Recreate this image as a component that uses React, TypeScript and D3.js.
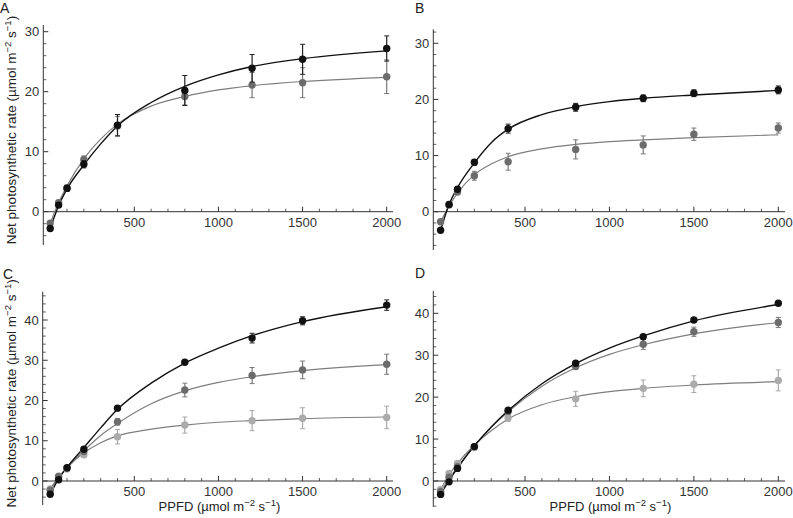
import React from "react";
import * as d3 from "d3";

const ppfd = [0, 50, 100, 200, 400, 800, 1200, 1500, 2000];
const curveX = [0, 50, 100, 200, 300, 400, 600, 800, 1000, 1200, 1500, 2000];
const xMajorTicks = [500, 1000, 1500, 2000];

// Panel A
const aBlack = [-2.8, 1.1, 3.9, 7.9, 14.4, 20.2, 23.9, 25.4, 27.2];
const aBlackErr = [0.3, 0.4, 0.5, 0.6, 1.8, 2.5, 2.3, 2.5, 2.1];
const aGray = [-1.9, 1.5, 3.9, 8.7, 14.3, 19.2, 21.1, 21.5, 22.5];
const aGrayErr = [0.3, 0.4, 0.5, 0.6, 1.6, 1.4, 2.1, 2.5, 2.8];
const aBlackCurve = [-2.8, 1.0, 3.8, 7.8, 11.3, 14.3, 18.2, 20.9, 22.8, 24.2, 25.5, 26.8];
const aGrayCurve = [-1.9, 1.5, 4.3, 8.8, 12.1, 14.6, 17.6, 19.2, 20.3, 21.0, 21.7, 22.4];

// Panel B
const bBlack = [-3.3, 1.3, 4.0, 8.8, 14.8, 18.6, 20.2, 21.1, 21.7];
const bBlackErr = [0.2, 0.3, 0.4, 0.5, 0.8, 0.7, 0.6, 0.6, 0.7];
const bGray = [-1.8, 1.2, 3.5, 6.4, 8.9, 11.1, 11.9, 13.8, 14.9];
const bGrayErr = [0.3, 0.3, 0.4, 0.8, 1.5, 1.7, 1.6, 1.1, 0.9];
const bBlackCurve = [-3.3, 1.3, 4.3, 8.7, 12.3, 14.7, 17.3, 18.7, 19.6, 20.2, 20.8, 21.6];
const bGrayCurve = [-1.8, 1.0, 3.3, 6.6, 8.5, 9.8, 11.2, 12.0, 12.5, 12.8, 13.2, 13.7];

// Panel C
const cBlack = [-3.3, 0.3, 3.3, 7.9, 18.1, 29.5, 35.5, 39.8, 43.7];
const cBlackErr = [0.2, 0.3, 0.3, 0.4, 0.4, 0.5, 1.2, 1.0, 1.3];
const cMid = [-2.3, 1.1, 3.2, 7.3, 14.7, 22.6, 26.2, 27.6, 29.0];
const cMidErr = [0.3, 0.3, 0.3, 0.5, 0.8, 1.7, 2.0, 2.2, 2.5];
const cLight = [-2.0, 1.2, 3.0, 6.5, 11.0, 13.9, 15.0, 15.6, 15.8];
const cLightErr = [0.3, 0.3, 0.3, 0.6, 1.8, 2.0, 2.5, 2.6, 2.8];
const cBlackCurve = [-3.3, 0.5, 3.4, 8.3, 13.2, 17.8, 24.3, 29.3, 33.0, 36.1, 39.6, 43.3];
const cMidCurve = [-2.3, 0.8, 3.3, 7.5, 11.3, 14.3, 19.2, 22.4, 24.5, 25.9, 27.4, 28.9];
const cLightCurve = [-2.0, 1.0, 3.3, 7.0, 9.5, 11.2, 12.9, 13.9, 14.6, 15.0, 15.5, 15.9];

// Panel D
const dBlack = [-3.2, -0.2, 3.0, 8.2, 16.9, 28.1, 34.4, 38.4, 42.4];
const dBlackErr = [0.2, 0.3, 0.3, 0.3, 0.4, 0.4, 0.4, 0.4, 0.4];
const dMid = [-2.5, 0.9, 3.4, 8.2, 16.6, 27.3, 32.6, 35.6, 37.8];
const dMidErr = [0.3, 0.3, 0.3, 0.4, 0.6, 0.6, 1.2, 1.1, 1.2];
const dLight = [-2.0, 1.8, 4.2, 8.0, 15.1, 19.6, 22.1, 23.1, 24.0];
const dLightErr = [0.3, 0.4, 0.4, 0.5, 0.9, 1.8, 2.0, 2.0, 2.5];
const dBlackCurve = [-3.2, 0.1, 3.1, 8.4, 12.9, 16.8, 23.2, 28.0, 31.7, 34.6, 38.2, 42.1];
const dMidCurve = [-2.5, 0.5, 3.3, 8.3, 12.8, 16.5, 22.6, 27.0, 30.2, 32.5, 35.1, 37.8];
const dLightCurve = [-2.0, 1.5, 4.2, 8.6, 12.0, 14.8, 18.2, 20.1, 21.3, 22.1, 22.9, 23.7];

const STY = {
  black: { fill: "#111", line: "#111", bar: "#222", lw: 1.4 },
  mid: { fill: "#6c6c6c", line: "#7e7e7e", bar: "#7a7a7a", lw: 1.2 },
  light: { fill: "#ababab", line: "#7e7e7e", bar: "#a8a8a8", lw: 1.2 },
};

type Series = { vals: number[]; err: number[]; curve: number[]; style: keyof typeof STY };
type Panel = {
  letter: string;
  lx: number; ly: number;
  axisX: number; x0: number; x2000: number; xEnd: number;
  yTopPx: number; yBotPx: number; yTickTop: number; y0px: number; yTopTickPx: number;
  yMajor: number[];
  series: Series[];
  yLabel: boolean; xLabel: boolean;
};

const panels: Panel[] = [
  {
    letter: "A", lx: 0, ly: 12.5,
    axisX: 43.3, x0: 50.2, x2000: 386.7, xEnd: 393,
    yTopPx: 25, yBotPx: 245, yTickTop: 30, y0px: 211.7, yTopTickPx: 31.7,
    yMajor: [0, 10, 20, 30],
    series: [
      { vals: aGray, err: aGrayErr, curve: aGrayCurve, style: "mid" },
      { vals: aBlack, err: aBlackErr, curve: aBlackCurve, style: "black" },
    ],
    yLabel: true, xLabel: false,
  },
  {
    letter: "B", lx: 415, ly: 12.5,
    axisX: 433.3, x0: 440.6, x2000: 778.3, xEnd: 785,
    yTopPx: 29.3, yBotPx: 250, yTickTop: 30, y0px: 211.7, yTopTickPx: 43.3,
    yMajor: [0, 10, 20, 30],
    series: [
      { vals: bGray, err: bGrayErr, curve: bGrayCurve, style: "mid" },
      { vals: bBlack, err: bBlackErr, curve: bBlackCurve, style: "black" },
    ],
    yLabel: false, xLabel: false,
  },
  {
    letter: "C", lx: 3, ly: 279,
    axisX: 42.7, x0: 50.2, x2000: 386.7, xEnd: 393,
    yTopPx: 291.7, yBotPx: 505, yTickTop: 40, y0px: 481, yTopTickPx: 320,
    yMajor: [0, 10, 20, 30, 40],
    series: [
      { vals: cLight, err: cLightErr, curve: cLightCurve, style: "light" },
      { vals: cMid, err: cMidErr, curve: cMidCurve, style: "mid" },
      { vals: cBlack, err: cBlackErr, curve: cBlackCurve, style: "black" },
    ],
    yLabel: true, xLabel: true,
  },
  {
    letter: "D", lx: 415, ly: 278,
    axisX: 433.3, x0: 440.6, x2000: 778.3, xEnd: 785,
    yTopPx: 291, yBotPx: 506.7, yTickTop: 40, y0px: 481, yTopTickPx: 313.3,
    yMajor: [0, 10, 20, 30, 40],
    series: [
      { vals: dLight, err: dLightErr, curve: dLightCurve, style: "light" },
      { vals: dMid, err: dMidErr, curve: dMidCurve, style: "mid" },
      { vals: dBlack, err: dBlackErr, curve: dBlackCurve, style: "black" },
    ],
    yLabel: false, xLabel: true,
  },
];

const FONT = "'Liberation Sans', Arial, Helvetica, sans-serif";
const AX = "#333";

function Unit() {
  return (
    <>
      {"(\u00b5mol m"}
      <tspan dy={-5} fontSize={9.5}>{"\u22122"}</tspan>
      <tspan dy={5}>{" s"}</tspan>
      <tspan dy={-5} fontSize={9.5}>{"\u22121"}</tspan>
      <tspan dy={5}>{")"}</tspan>
    </>
  );
}

function PanelView({ p }: { p: Panel }) {
  const x = d3.scaleLinear().domain([0, 2000]).range([p.x0, p.x2000]);
  const y = d3.scaleLinear().domain([0, p.yTickTop]).range([p.y0px, p.yTopTickPx]);
  const yMin = y.invert(p.yBotPx);
  const yMax = y.invert(p.yTopPx);
  const minorY = d3.range(Math.ceil(yMin / 2) * 2, yMax + 1e-6, 2).filter((v) => Math.abs(v % 10) > 1e-6);
  const minorX = d3.range(100, 2001, 100).filter((v) => v % 500 !== 0);
  const line = d3
    .line<number>()
    .x((_, i) => x(curveX[i]))
    .y((d) => y(d))
    .curve(d3.curveMonotoneX);
  const yZero = y(0);
  return (
    <g>
      <text x={p.lx} y={p.ly} fontSize={14} fill="#222" fontFamily={FONT}>{p.letter}</text>
      {/* axes */}
      <line x1={p.axisX} x2={p.axisX} y1={p.yTopPx} y2={p.yBotPx} stroke={AX} strokeWidth={1} />
      <line x1={p.axisX} x2={p.xEnd} y1={yZero} y2={yZero} stroke={AX} strokeWidth={1} />
      {p.yMajor.map((v) => (
        <g key={"ym" + v}>
          <line x1={p.axisX} x2={p.axisX + 5} y1={y(v)} y2={y(v)} stroke={AX} />
          <text x={p.axisX - 4} y={y(v) + 4.5} textAnchor="end" fontSize={13} fill="#333" fontFamily={FONT}>{v}</text>
        </g>
      ))}
      {minorY.map((v) => (
        <line key={"yn" + v} x1={p.axisX} x2={p.axisX + 3} y1={y(v)} y2={y(v)} stroke={AX} strokeWidth={0.8} />
      ))}
      {xMajorTicks.map((v) => (
        <g key={"xm" + v}>
          <line x1={x(v)} x2={x(v)} y1={yZero} y2={yZero - 5} stroke={AX} />
          <text x={x(v)} y={yZero + 15} textAnchor="middle" fontSize={13} fill="#333" fontFamily={FONT}>{v}</text>
        </g>
      ))}
      {minorX.map((v) => (
        <line key={"xn" + v} x1={x(v)} x2={x(v)} y1={yZero} y2={yZero - 3} stroke={AX} strokeWidth={0.8} />
      ))}
      {/* curves */}
      {p.series.map((s, si) => (
        <path key={"c" + si} d={line(s.curve) || ""} fill="none" stroke={STY[s.style].line} strokeWidth={STY[s.style].lw} />
      ))}
      {/* error bars and markers */}
      {p.series.map((s, si) => (
        <g key={"s" + si}>
          {s.vals.map((v, i) => {
            const cx = x(ppfd[i]);
            const t = y(v + s.err[i]);
            const b = y(v - s.err[i]);
            const c = STY[s.style].bar;
            return (
              <g key={i}>
                <line x1={cx} x2={cx} y1={t} y2={b} stroke={c} strokeWidth={1.2} />
                <line x1={cx - 2.5} x2={cx + 2.5} y1={t} y2={t} stroke={c} strokeWidth={1} />
                <line x1={cx - 2.5} x2={cx + 2.5} y1={b} y2={b} stroke={c} strokeWidth={1} />
              </g>
            );
          })}
          {s.vals.map((v, i) => (
            <circle key={"m" + i} cx={x(ppfd[i])} cy={y(v)} r={3.7} fill={STY[s.style].fill} />
          ))}
        </g>
      ))}
      {p.yLabel && (
        <text
          transform={`translate(16,${(p.yTopPx + p.yBotPx) / 2 - 5}) rotate(-90)`}
          textAnchor="middle"
          fontSize={13.5}
          fill="#222"
          fontFamily={FONT}
        >
          {"Net photosynthetic rate "}
          <Unit />
        </text>
      )}
      {p.xLabel && (
        <text x={(p.x0 + p.x2000) / 2 + 1} y={511} textAnchor="middle" fontSize={13} fill="#222" fontFamily={FONT}>
          {"PPFD "}
          <Unit />
        </text>
      )}
    </g>
  );
}

export default function App() {
  return (
    <svg
      width={793}
      height={518}
      viewBox="0 0 793 518"
      style={{ position: "absolute", left: 0, top: 0, background: "#fff" }}
    >
      <rect width={793} height={518} fill="#fff" />
      {panels.map((p) => (
        <PanelView key={p.letter} p={p} />
      ))}
    </svg>
  );
}
